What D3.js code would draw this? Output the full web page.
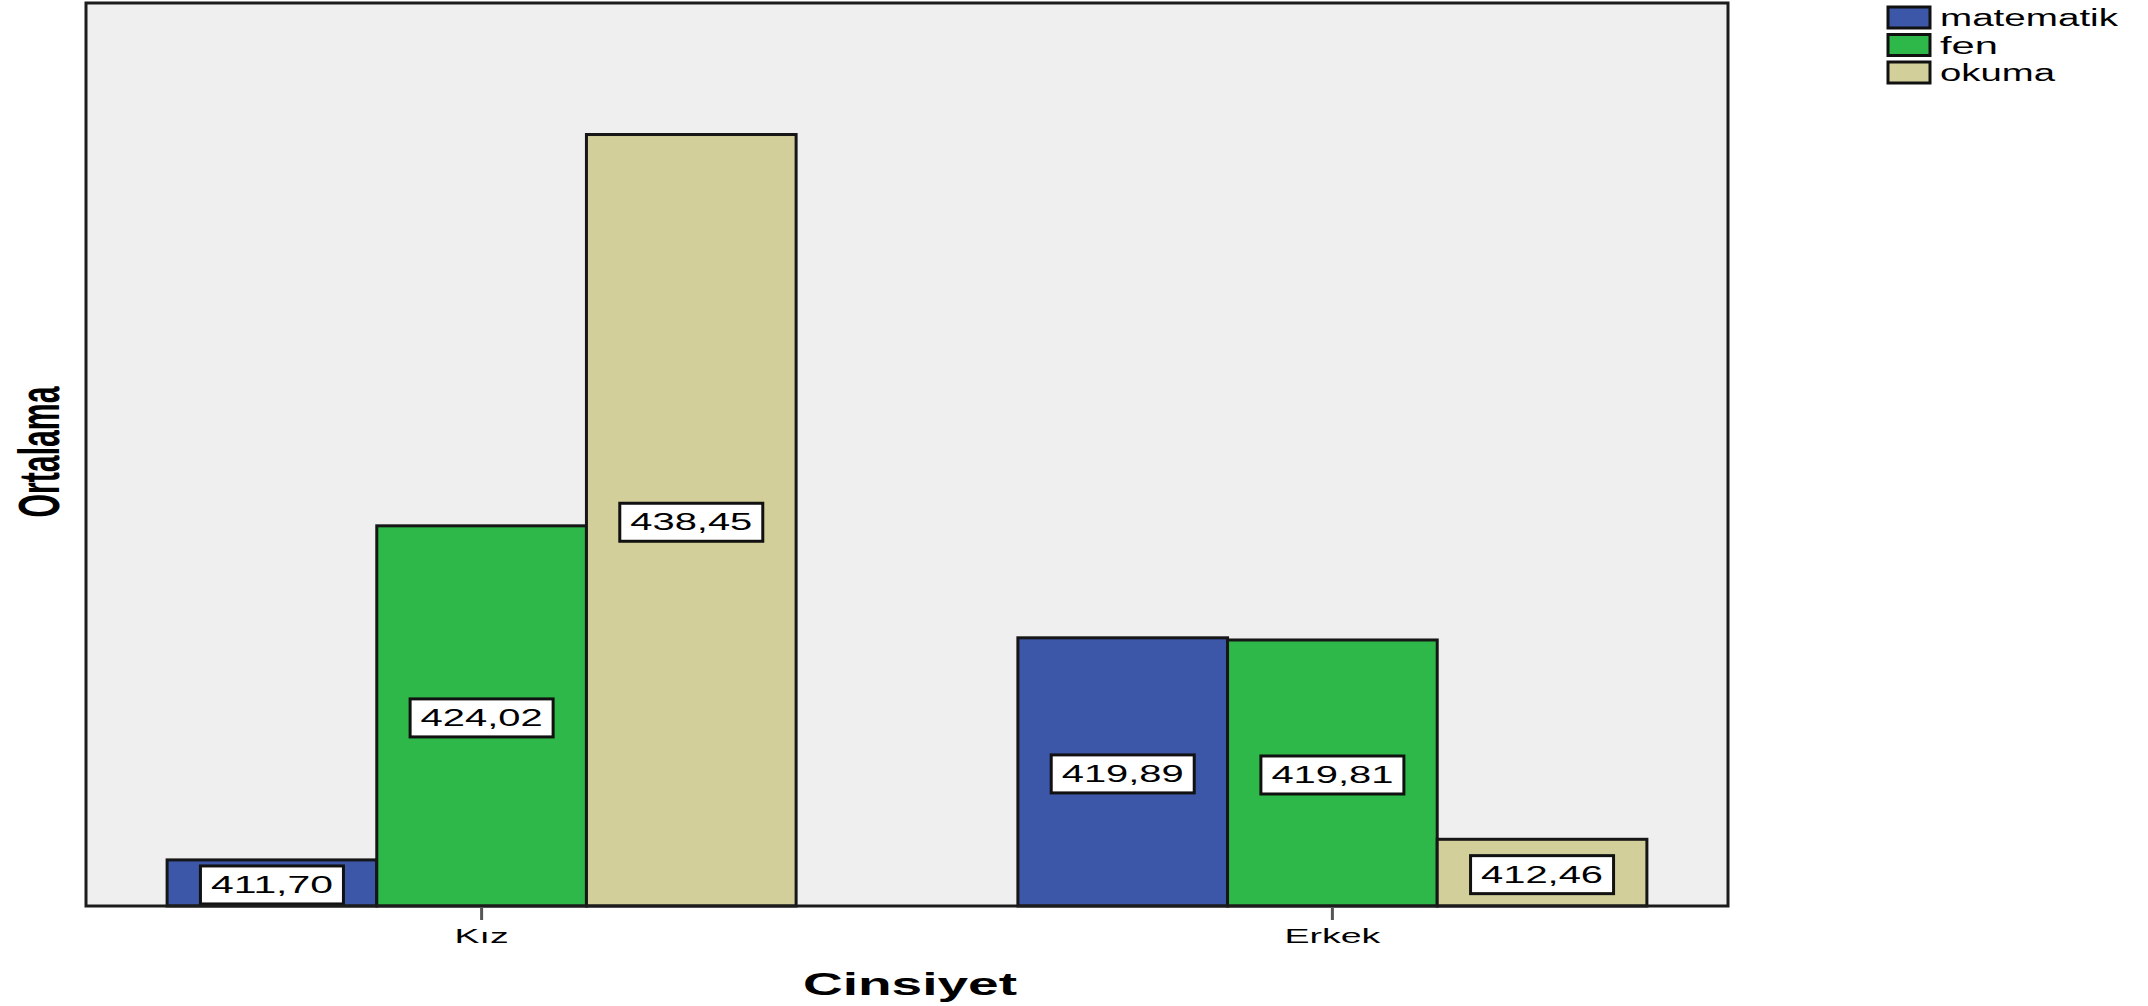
<!DOCTYPE html>
<html>
<head>
<meta charset="utf-8">
<script src="https://cdn.jsdelivr.net/npm/d3@7/dist/d3.min.js"></script>
<style>
  html, body { margin: 0; padding: 0; background: #ffffff; }
  svg { display: block; }
  text { font-family: "Liberation Sans", Arial, sans-serif; fill: #000; }
</style>
</head>
<body>
<script>
const categories = ["Kız", "Erkek"];
const seriesNames = ["matematik", "fen", "okuma"];
const matematik = [411.70, 419.89];
const fen = [424.02, 419.81];
const okuma = [438.45, 412.46];
const valueLabels = {
  matematik: ["411,70", "419,89"],
  fen: ["424,02", "419,81"],
  okuma: ["438,45", "412,46"]
};
const seriesValues = { matematik, fen, okuma };
const colors = { matematik: "#3c56a8", fen: "#2eb84a", okuma: "#d3cf9a" };

const W = 2148, H = 1006;
const plot = { left: 86, top: 3, right: 1728, bottom: 906 };

const svg = d3.select("body").append("svg").attr("width", W).attr("height", H);

const x0 = d3.scalePoint().domain(categories).range([plot.left, plot.right]).padding(0.465);
const groupW = 629;
const x1 = d3.scaleBand().domain(seriesNames).range([-groupW / 2, groupW / 2]).padding(0);
const y = d3.scaleLinear().domain([410, 443.3]).range([plot.bottom, plot.top]);

// plot background
svg.append("rect")
  .attr("x", plot.left).attr("y", plot.top)
  .attr("width", plot.right - plot.left).attr("height", plot.bottom - plot.top)
  .attr("fill", "#efefef");

// bars
const rows = [];
categories.forEach((c, i) => {
  seriesNames.forEach(s => rows.push({ cat: c, s, v: seriesValues[s][i], label: valueLabels[s][i] }));
});

const g = svg.append("g");
g.selectAll("rect.bar").data(rows).join("rect")
  .attr("class", "bar")
  .attr("x", d => x0(d.cat) + x1(d.s))
  .attr("y", d => y(d.v))
  .attr("width", x1.bandwidth())
  .attr("height", d => y.range()[0] - y(d.v))
  .attr("fill", d => colors[d.s])
  .attr("stroke", "#161616")
  .attr("stroke-width", 3);

// value labels
const boxW = 143, boxH = 38;
const lab = g.selectAll("g.lab").data(rows).join("g").attr("class", "lab")
  .attr("transform", d => {
    const cx = x0(d.cat) + x1(d.s) + x1.bandwidth() / 2;
    const cy = (y(d.v) + y.range()[0]) / 2 + 2;
    return `translate(${cx},${cy})`;
  });
lab.append("rect")
  .attr("x", -boxW / 2).attr("y", -boxH / 2)
  .attr("width", boxW).attr("height", boxH)
  .attr("fill", "#ffffff").attr("stroke", "#111").attr("stroke-width", 3);
lab.append("text")
  .attr("text-anchor", "middle")
  .attr("y", 8)
  .attr("font-size", 23)
  .attr("textLength", 122)
  .attr("lengthAdjust", "spacingAndGlyphs")
  .text(d => d.label);

// frame
svg.append("rect")
  .attr("x", plot.left).attr("y", plot.top)
  .attr("width", plot.right - plot.left).attr("height", plot.bottom - plot.top)
  .attr("fill", "none").attr("stroke", "#1c1c1c").attr("stroke-width", 3);

// x axis ticks and labels
const tickLens = { "Kız": 54, "Erkek": 96 };
const ax = svg.append("g").selectAll("g").data(categories).join("g")
  .attr("transform", d => `translate(${x0(d)},0)`);
ax.append("line")
  .attr("y1", plot.bottom + 1).attr("y2", plot.bottom + 14)
  .attr("stroke", "#555").attr("stroke-width", 3);
ax.append("text")
  .attr("text-anchor", "middle").attr("y", 943)
  .attr("font-size", 20)
  .attr("textLength", d => tickLens[d])
  .attr("lengthAdjust", "spacingAndGlyphs")
  .text(d => d);

// axis titles
svg.append("text")
  .attr("x", 910).attr("y", 995)
  .attr("text-anchor", "middle")
  .attr("font-size", 31).attr("font-weight", "bold")
  .attr("textLength", 214).attr("lengthAdjust", "spacingAndGlyphs")
  .text("Cinsiyet");

svg.append("text")
  .attr("transform", "translate(59,452) rotate(-90)")
  .attr("text-anchor", "middle")
  .attr("font-size", 58).attr("font-weight", "bold")
  .attr("textLength", 131).attr("lengthAdjust", "spacingAndGlyphs")
  .text("Ortalama");

// legend
const leg = svg.append("g").selectAll("g").data(seriesNames).join("g")
  .attr("transform", (d, i) => `translate(1888,${7 + i * 27.5})`);
leg.append("rect")
  .attr("width", 42).attr("height", 21)
  .attr("fill", d => colors[d]).attr("stroke", "#111").attr("stroke-width", 3);
const legLens = { matematik: 178, fen: 58, okuma: 115 };
leg.append("text")
  .attr("x", 52).attr("y", 19)
  .attr("font-size", 23)
  .attr("textLength", d => legLens[d])
  .attr("lengthAdjust", "spacingAndGlyphs")
  .text(d => d);
</script>
</body>
</html>
